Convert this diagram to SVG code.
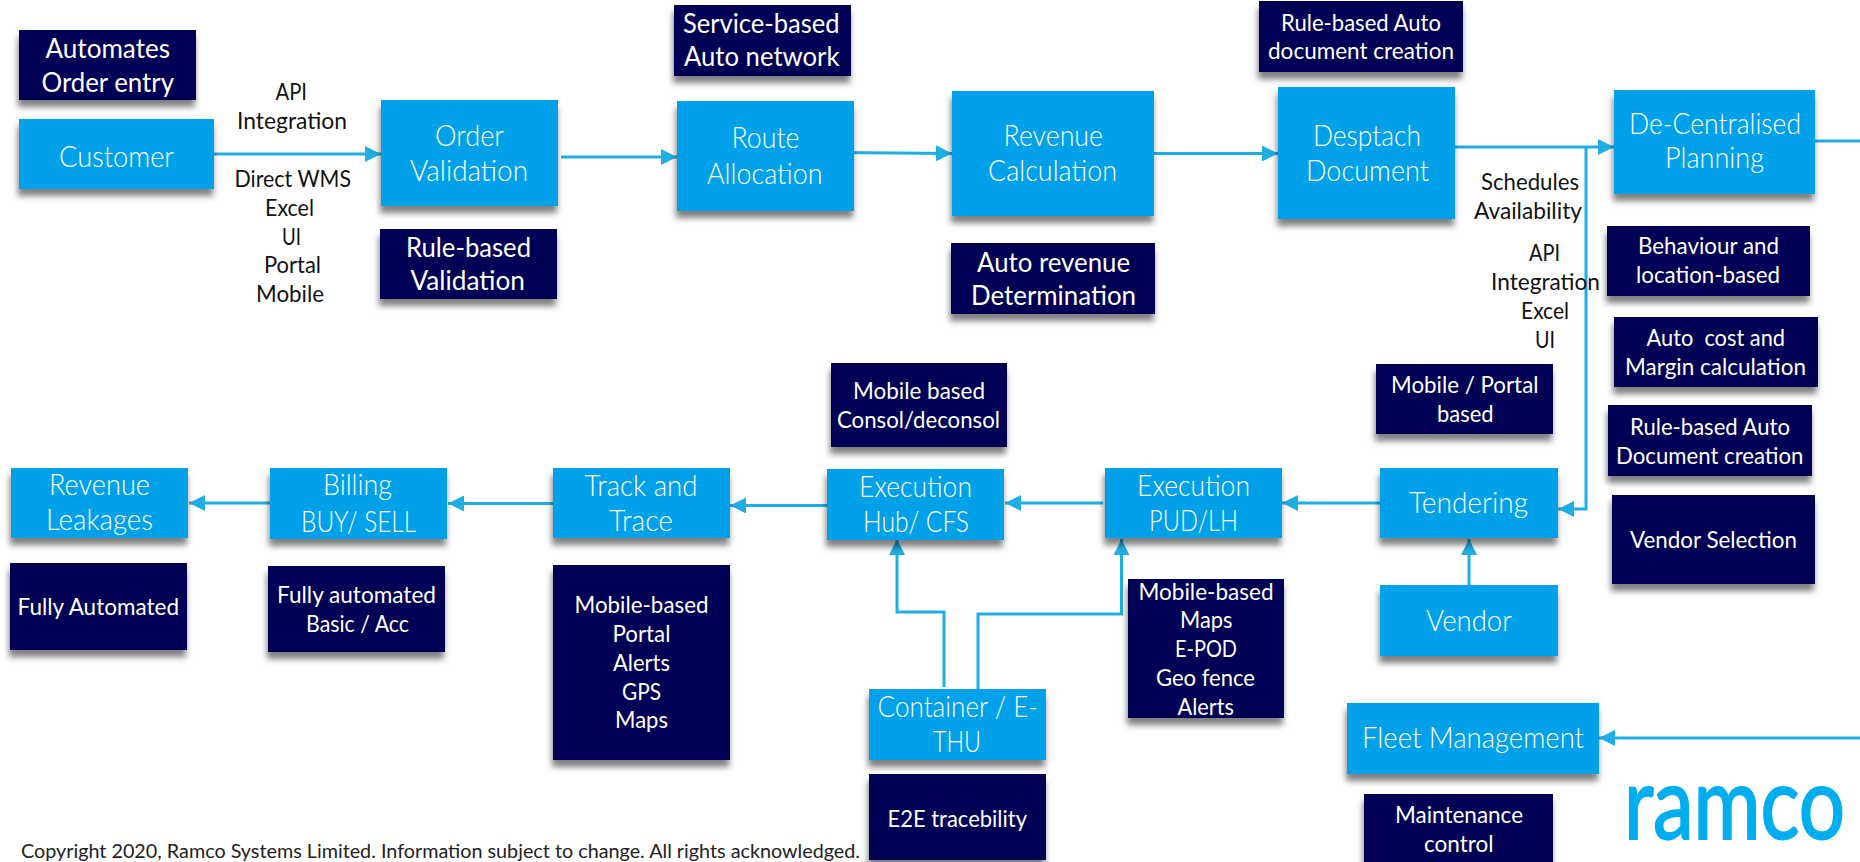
<svg xmlns="http://www.w3.org/2000/svg" width="1860" height="862" viewBox="0 0 1860 862">
<style>
text{font-family:"Lato","Liberation Sans",sans-serif;}
.b{fill:#04A1E8;filter:url(#sh);}
.d{fill:#010554;filter:url(#sh);}
.bt{fill:#fff;font-size:28.500px;font-weight:300;}
.dl{fill:#fff;font-size:27px;}
.ds{fill:#fff;font-size:23px;}
.lb{fill:#111;font-size:22.500px;}
.c{fill:none;stroke:#1FAEE3;stroke-width:3;marker-end:url(#a);}
.n{fill:none;stroke:#1FAEE3;stroke-width:3;}
.cr{fill:#222;font-size:19.500px;}
.lg{fill:#00AEEF;stroke:#00AEEF;stroke-width:2;font-size:100px;}
</style>
<defs>
<filter id="sh" x="-15%" y="-15%" width="130%" height="140%"><feDropShadow dx="-1" dy="7" stdDeviation="3" flood-color="#000" flood-opacity="0.5"/></filter>
<marker id="a" markerUnits="userSpaceOnUse" markerWidth="18" markerHeight="18" refX="16" refY="8" orient="auto"><path d="M0 0L16 8L0 16Z" fill="#1FAEE3"/></marker>
</defs>
<rect width="1860" height="862" fill="#fff"/>

<g id="connectors">
<path class="c" d="M214 154H381"/>
<path class="c" d="M561 157H677"/>
<path class="c" d="M838 152.500L952 153.500"/>
<path class="c" d="M1154 153.500H1278"/>
<path class="c" d="M1455 147H1614"/>
<path class="c" d="M1586 146V509H1558"/>
<path class="n" d="M1815 141H1860"/>
<path class="c" d="M1860 738H1599"/>
<path class="c" d="M1469 585V539"/>
<path class="c" d="M1380 503H1282"/>
<path class="c" d="M1103 503H1005"/>
<path class="c" d="M827 505.500H730"/>
<path class="c" d="M553 503.500H448"/>
<path class="c" d="M270 503H189"/>
<path class="c" d="M944 687V612H897V539"/>
<path class="c" d="M978 689V614H1121.500V539"/>
</g>

<g id="automates"><rect class="d" x="19" y="30" width="177" height="70"/><text class="dl" x="45.500" y="58" textLength="124.500" lengthAdjust="spacingAndGlyphs">Automates</text><text class="dl" x="41.500" y="91.500" textLength="132.500" lengthAdjust="spacingAndGlyphs">Order entry</text></g>
<g id="customer"><rect class="b" x="19" y="119" width="195" height="70"/><text class="bt" x="59" y="167" textLength="115" lengthAdjust="spacingAndGlyphs">Customer</text></g>
<g id="label-api"><text class="lb" x="275.500" y="100" textLength="31.500" lengthAdjust="spacingAndGlyphs">API</text><text class="lb" x="237" y="129" textLength="110" lengthAdjust="spacingAndGlyphs">Integration</text><text class="lb" x="234.500" y="187" textLength="116.500" lengthAdjust="spacingAndGlyphs">Direct WMS</text><text class="lb" x="265" y="216" textLength="49" lengthAdjust="spacingAndGlyphs">Excel</text><text class="lb" x="282" y="245" textLength="19" lengthAdjust="spacingAndGlyphs">UI</text><text class="lb" x="264" y="273" textLength="57" lengthAdjust="spacingAndGlyphs">Portal</text><text class="lb" x="256" y="302" textLength="68" lengthAdjust="spacingAndGlyphs">Mobile</text></g>
<g id="order-validation"><rect class="b" x="381" y="100" width="177" height="106"/><text class="bt" x="435" y="146" textLength="69" lengthAdjust="spacingAndGlyphs">Order</text><text class="bt" x="410" y="181" textLength="118" lengthAdjust="spacingAndGlyphs">Validation</text></g>
<g id="rule-validation"><rect class="d" x="380" y="229" width="177" height="70"/><text class="dl" x="406" y="257" textLength="125" lengthAdjust="spacingAndGlyphs">Rule-based</text><text class="dl" x="410.500" y="290" textLength="114.500" lengthAdjust="spacingAndGlyphs">Validation</text></g>
<g id="service-network"><rect class="d" x="674" y="5" width="177" height="71"/><text class="dl" x="683" y="33" textLength="156.500" lengthAdjust="spacingAndGlyphs">Service-based</text><text class="dl" x="684" y="66" textLength="155.500" lengthAdjust="spacingAndGlyphs">Auto network</text></g>
<g id="route-allocation"><rect class="b" x="677" y="101" width="177" height="110"/><text class="bt" x="731.500" y="148" textLength="68" lengthAdjust="spacingAndGlyphs">Route</text><text class="bt" x="707" y="184" textLength="115.500" lengthAdjust="spacingAndGlyphs">Allocation</text></g>
<g id="revenue-calculation"><rect class="b" x="952" y="91" width="202" height="125"/><text class="bt" x="1003.500" y="146" textLength="99.500" lengthAdjust="spacingAndGlyphs">Revenue</text><text class="bt" x="988" y="181" textLength="129" lengthAdjust="spacingAndGlyphs">Calculation</text></g>
<g id="auto-revenue"><rect class="d" x="951" y="243" width="204" height="71"/><text class="dl" x="977" y="272" textLength="153" lengthAdjust="spacingAndGlyphs">Auto revenue</text><text class="dl" x="971" y="305" textLength="165" lengthAdjust="spacingAndGlyphs">Determination</text></g>
<g id="rule-doc"><rect class="d" x="1259" y="1" width="204" height="71"/><text class="ds" x="1281" y="31" textLength="160" lengthAdjust="spacingAndGlyphs">Rule-based Auto</text><text class="ds" x="1268" y="59" textLength="186" lengthAdjust="spacingAndGlyphs">document creation</text></g>
<g id="despatch-document"><rect class="b" x="1278" y="87" width="177" height="132"/><text class="bt" x="1313" y="146" textLength="108" lengthAdjust="spacingAndGlyphs">Desptach</text><text class="bt" x="1306" y="181" textLength="123" lengthAdjust="spacingAndGlyphs">Document</text></g>
<g id="decentralised-planning"><rect class="b" x="1614" y="90" width="201" height="104"/><text class="bt" x="1629" y="134" textLength="172" lengthAdjust="spacingAndGlyphs">De-Centralised</text><text class="bt" x="1665" y="168" textLength="99" lengthAdjust="spacingAndGlyphs">Planning</text></g>
<g id="label-schedules"><text class="lb" x="1481" y="190" textLength="98" lengthAdjust="spacingAndGlyphs">Schedules</text><text class="lb" x="1474" y="219" textLength="108" lengthAdjust="spacingAndGlyphs">Availability</text><text class="lb" x="1529" y="261" textLength="31" lengthAdjust="spacingAndGlyphs">API</text><text class="lb" x="1491" y="290" textLength="109" lengthAdjust="spacingAndGlyphs">Integration</text><text class="lb" x="1521" y="319" textLength="48" lengthAdjust="spacingAndGlyphs">Excel</text><text class="lb" x="1535" y="348" textLength="20" lengthAdjust="spacingAndGlyphs">UI</text></g>
<g id="behaviour"><rect class="d" x="1607" y="226" width="203" height="70"/><text class="ds" x="1638" y="254" textLength="141" lengthAdjust="spacingAndGlyphs">Behaviour and</text><text class="ds" x="1636" y="283" textLength="144" lengthAdjust="spacingAndGlyphs">location-based</text></g>
<g id="auto-cost"><rect class="d" x="1614" y="317" width="204" height="70"/><text class="ds" x="1646.500" y="346" textLength="138.500" lengthAdjust="spacingAndGlyphs" xml:space="preserve">Auto  cost and</text><text class="ds" x="1625" y="375" textLength="181" lengthAdjust="spacingAndGlyphs">Margin calculation</text></g>
<g id="mobile-portal"><rect class="d" x="1376" y="364" width="177" height="70"/><text class="ds" x="1391" y="393" textLength="147.500" lengthAdjust="spacingAndGlyphs">Mobile / Portal</text><text class="ds" x="1437" y="422" textLength="56.500" lengthAdjust="spacingAndGlyphs">based</text></g>
<g id="rule-document"><rect class="d" x="1608" y="405" width="204" height="71"/><text class="ds" x="1630" y="435" textLength="160" lengthAdjust="spacingAndGlyphs">Rule-based Auto</text><text class="ds" x="1616" y="464" textLength="187.500" lengthAdjust="spacingAndGlyphs">Document creation</text></g>
<g id="vendor-selection"><rect class="d" x="1612" y="495" width="203" height="89"/><text class="ds" x="1630" y="548" textLength="167" lengthAdjust="spacingAndGlyphs">Vendor Selection</text></g>
<g id="tendering"><rect class="b" x="1380" y="468" width="178" height="70"/><text class="bt" x="1409" y="513" textLength="119" lengthAdjust="spacingAndGlyphs">Tendering</text></g>
<g id="vendor"><rect class="b" x="1380" y="585" width="178" height="71"/><text class="bt" x="1426" y="631" textLength="86" lengthAdjust="spacingAndGlyphs">Vendor</text></g>
<g id="fleet-management"><rect class="b" x="1347" y="703" width="252" height="71"/><text class="bt" x="1362" y="748" textLength="222" lengthAdjust="spacingAndGlyphs">Fleet Management</text></g>
<g id="maintenance"><rect class="d" x="1364" y="794" width="189" height="70"/><text class="ds" x="1395" y="823" textLength="128" lengthAdjust="spacingAndGlyphs">Maintenance</text><text class="ds" x="1424" y="852" textLength="69.500" lengthAdjust="spacingAndGlyphs">control</text></g>
<g id="execution-pud"><rect class="b" x="1105" y="468" width="177" height="70"/><text class="bt" x="1137" y="496" textLength="113" lengthAdjust="spacingAndGlyphs">Execution</text><text class="bt" x="1149" y="531" textLength="89" lengthAdjust="spacingAndGlyphs">PUD/LH</text></g>
<g id="execution-hub"><rect class="b" x="827" y="469" width="177" height="71"/><text class="bt" x="859" y="497" textLength="113" lengthAdjust="spacingAndGlyphs">Execution</text><text class="bt" x="863" y="532" textLength="106" lengthAdjust="spacingAndGlyphs">Hub/ CFS</text></g>
<g id="mobile-consol"><rect class="d" x="831" y="363" width="176" height="84"/><text class="ds" x="853" y="399" textLength="132" lengthAdjust="spacingAndGlyphs">Mobile based</text><text class="ds" x="837" y="428" textLength="163" lengthAdjust="spacingAndGlyphs">Consol/deconsol</text></g>
<g id="mobile-maps"><rect class="d" x="1128" y="579" width="156" height="139"/><text class="ds" x="1138.500" y="600" textLength="135" lengthAdjust="spacingAndGlyphs">Mobile-based</text><text class="ds" x="1180" y="628" textLength="52.500" lengthAdjust="spacingAndGlyphs">Maps</text><text class="ds" x="1175" y="657" textLength="62" lengthAdjust="spacingAndGlyphs">E-POD</text><text class="ds" x="1156" y="686" textLength="99" lengthAdjust="spacingAndGlyphs">Geo fence</text><text class="ds" x="1177.500" y="715" textLength="56.500" lengthAdjust="spacingAndGlyphs">Alerts</text></g>
<g id="container"><rect class="b" x="869" y="689" width="177" height="71"/><text class="bt" x="877.500" y="717" textLength="160.500" lengthAdjust="spacingAndGlyphs">Container / E-</text><text class="bt" x="933" y="752" textLength="48" lengthAdjust="spacingAndGlyphs">THU</text></g>
<g id="e2e"><rect class="d" x="869" y="774" width="177" height="86"/><text class="ds" x="887.500" y="827" textLength="139.500" lengthAdjust="spacingAndGlyphs">E2E tracebility</text></g>
<g id="track-trace"><rect class="b" x="553" y="468" width="177" height="70"/><text class="bt" x="584.500" y="496" textLength="113" lengthAdjust="spacingAndGlyphs">Track and</text><text class="bt" x="609" y="531" textLength="64" lengthAdjust="spacingAndGlyphs">Trace</text></g>
<g id="mobile-gps"><rect class="d" x="553" y="565" width="177" height="195"/><text class="ds" x="574.500" y="613" textLength="134" lengthAdjust="spacingAndGlyphs">Mobile-based</text><text class="ds" x="612.500" y="642" textLength="58" lengthAdjust="spacingAndGlyphs">Portal</text><text class="ds" x="613" y="671" textLength="57" lengthAdjust="spacingAndGlyphs">Alerts</text><text class="ds" x="622" y="700" textLength="39" lengthAdjust="spacingAndGlyphs">GPS</text><text class="ds" x="615" y="728" textLength="53" lengthAdjust="spacingAndGlyphs">Maps</text></g>
<g id="billing"><rect class="b" x="270" y="468" width="177" height="71"/><text class="bt" x="323" y="495" textLength="69" lengthAdjust="spacingAndGlyphs">Billing</text><text class="bt" x="301" y="532" textLength="115" lengthAdjust="spacingAndGlyphs">BUY/ SELL</text></g>
<g id="fully-basic"><rect class="d" x="268" y="566" width="177" height="86"/><text class="ds" x="277" y="603" textLength="159" lengthAdjust="spacingAndGlyphs">Fully automated</text><text class="ds" x="306" y="632" textLength="103" lengthAdjust="spacingAndGlyphs">Basic / Acc</text></g>
<g id="revenue-leakages"><rect class="b" x="11" y="468" width="177" height="70"/><text class="bt" x="49" y="495" textLength="101" lengthAdjust="spacingAndGlyphs">Revenue</text><text class="bt" x="46" y="530" textLength="107" lengthAdjust="spacingAndGlyphs">Leakages</text></g>
<g id="fully-automated"><rect class="d" x="10" y="563" width="177" height="87"/><text class="ds" x="17.500" y="615" textLength="161.500" lengthAdjust="spacingAndGlyphs">Fully Automated</text></g>
<text class="cr" x="21" y="858" textLength="839" lengthAdjust="spacingAndGlyphs">Copyright 2020, Ramco Systems Limited. Information subject to change. All rights acknowledged.</text>
<text class="lg" x="1624" y="839" textLength="221" lengthAdjust="spacingAndGlyphs">ramco</text>
</svg>
